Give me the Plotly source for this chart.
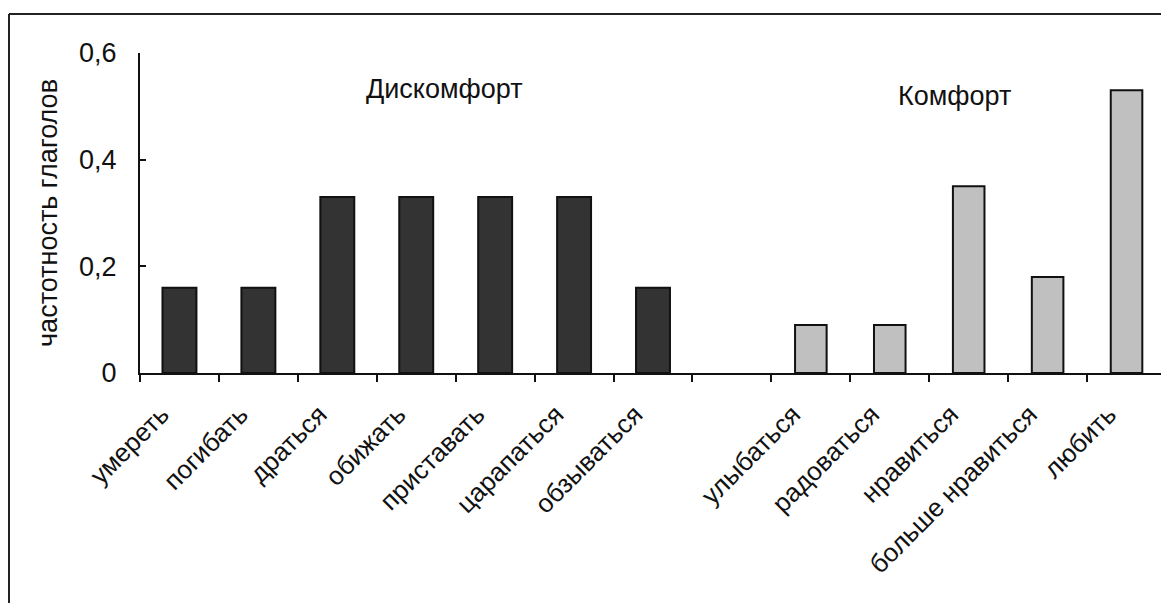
import plotly.graph_objects as go

categories = ["умереть", "погибать", "драться", "обижать", "приставать", "царапаться",
              "обзываться", " ", "улыбаться", "радоваться", "нравиться",
              "больше нравиться", "любить"]
discomfort_cats = ["умереть", "погибать", "драться", "обижать", "приставать", "царапаться", "обзываться"]
discomfort_vals = [0.16, 0.16, 0.33, 0.33, 0.33, 0.33, 0.16]
comfort_cats = ["улыбаться", "радоваться", "нравиться", "больше нравиться", "любить"]
comfort_vals = [0.09, 0.09, 0.35, 0.18, 0.53]
y_tickvals = [0, 0.2, 0.4, 0.6]
y_ticktext = ["0", "0,2", "0,4", "0,6"]

# page body has an 8px default margin; figure origin sits at screen (8, 8)
OFF = 8
W, H = 1161, 595
L, R, T, B = 132, 3, 45, 230
pw, ph = W - L - R, H - T - B

def sx(p):
    return (p - OFF - L) / pw

def sy(q):
    return (H - B - (q - OFF)) / ph

FONT = "Liberation Sans, Arial, sans-serif"

fig = go.Figure()
fig.add_trace(go.Bar(x=discomfort_cats, y=discomfort_vals, width=0.43,
                     marker=dict(color="#333333", line=dict(color="#111111", width=2)),
                     showlegend=False))
fig.add_trace(go.Bar(x=comfort_cats, y=comfort_vals, width=0.40,
                     marker=dict(color="#c0c0c0", line=dict(color="#111111", width=2)),
                     showlegend=False))

fig.update_layout(
    width=W, height=H,
    margin=dict(l=L, r=R, t=T, b=B, autoexpand=False),
    paper_bgcolor="white", plot_bgcolor="white",
    barmode="overlay",
    font=dict(family=FONT, size=27, color="#111111"),
    xaxis=dict(type="category", categoryorder="array", categoryarray=categories,
               range=[-0.5, len(categories) - 0.5],
               tickson="boundaries", ticks="outside", ticklen=7, tickwidth=2, tickcolor="#111",
               showline=True, linecolor="#111", linewidth=2, showgrid=False,
               tickangle=-45, tickfont=dict(size=26),
               ticklabelshift=-18, ticklabelstandoff=14),
    yaxis=dict(range=[0, 0.6], tickvals=y_tickvals, ticktext=y_ticktext,
               ticks="inside", ticklen=6, tickwidth=2, tickcolor="#111",
               showline=True, linecolor="#111", linewidth=2, showgrid=False,
               zeroline=False, ticklabelstandoff=16, tickfont=dict(size=27),
               title=dict(text="частотность глаголов", font=dict(size=27), standoff=14)),
    annotations=[
        dict(text="Дискомфорт", xref="paper", yref="paper", x=sx(444), y=sy(89),
             showarrow=False, font=dict(size=27), xanchor="center", yanchor="middle"),
        dict(text="Комфорт", xref="paper", yref="paper", x=sx(954), y=sy(96),
             showarrow=False, font=dict(size=27), xanchor="center", yanchor="middle"),
    ],
    shapes=[
        dict(type="line", xref="paper", yref="paper", x0=sx(9), x1=sx(1250), y0=sy(14), y1=sy(14),
             line=dict(color="#222", width=2)),
        dict(type="line", xref="paper", yref="paper", x0=sx(9), x1=sx(9), y0=sy(14), y1=sy(700),
             line=dict(color="#222", width=2)),
    ],
)

fig.write_html("out.html")
